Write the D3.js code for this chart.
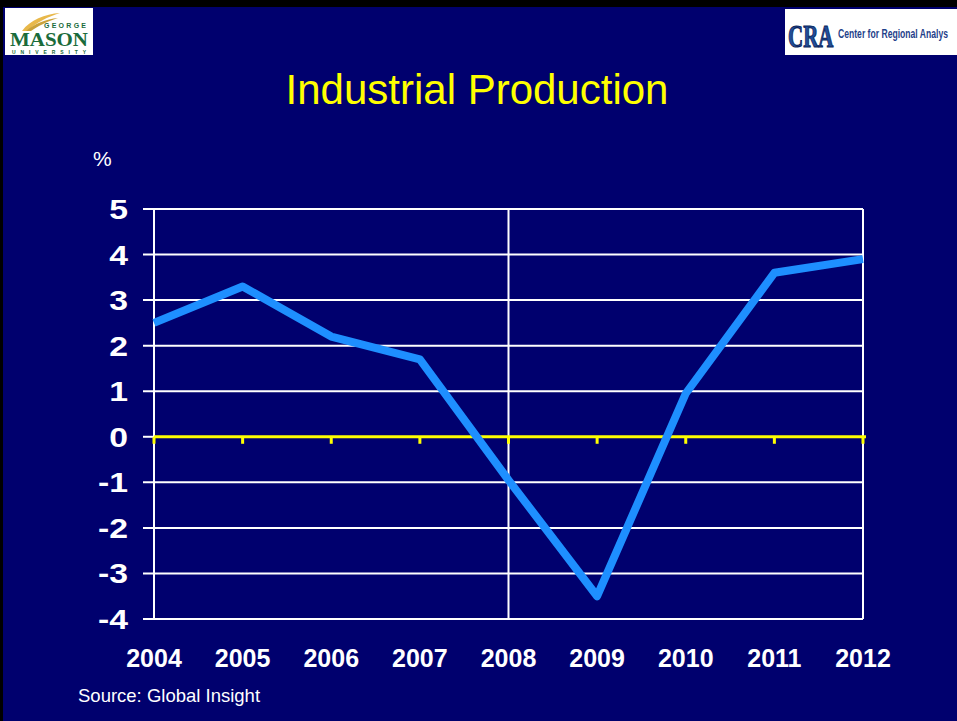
<!DOCTYPE html>
<html><head><meta charset="utf-8">
<script src="https://cdn.jsdelivr.net/npm/d3@7"></script>
<style>html,body{margin:0;padding:0;background:#000;overflow:hidden}</style>
</head><body>
<script>
const years = [2004, 2005, 2006, 2007, 2008, 2009, 2010, 2011, 2012];
const values = [2.5, 3.3, 2.2, 1.7, -0.95, -3.5, 0.95, 3.6, 3.9];
const yTicks = [5, 4, 3, 2, 1, 0, -1, -2, -3, -4];
const yTickLabels = ["5","4","3","2","1","0","-1","-2","-3","-4"];
const xTickLabels = ["2004","2005","2006","2007","2008","2009","2010","2011","2012"];
const title = "Industrial Production";
const unitLabel = "%";
const sourceText = "Source: Global Insight";

const W = 957, H = 721;
const svg = d3.select("body").append("svg").attr("width", W).attr("height", H);
const font = "Liberation Sans, Arial, sans-serif";

svg.append("rect").attr("width", W).attr("height", H).attr("fill", "#000");
svg.append("rect").attr("x", 3).attr("y", 7).attr("width", W - 3).attr("height", H - 7).attr("fill", "#00006e");

// Logos (left)
const gl = svg.append("g");
gl.append("rect").attr("x", 5).attr("y", 8).attr("width", 88).attr("height", 47).attr("fill", "#fff");
gl.append("path").attr("d", "M22,31 C30,20 45,14 60,13 C48,17 36,22 28,31 Z").attr("fill", "#e8b84a");
gl.append("path").attr("d", "M26,31 C34,24 46,19 58,18 C46,22 38,26 31,31 Z").attr("fill", "#c9a13a");
gl.append("text").attr("x", 44).attr("y", 28).attr("font-family", font).attr("font-weight", "bold")
  .attr("font-size", 7).attr("fill", "#1a6b3a").attr("textLength", 42).text("GEORGE");
gl.append("text").attr("x", 10).attr("y", 46).attr("font-family", "Liberation Serif, serif").attr("font-weight", "bold")
  .attr("font-size", 18).attr("fill", "#1a6b3a").attr("textLength", 78).attr("lengthAdjust", "spacingAndGlyphs").text("MASON");
gl.append("text").attr("x", 12).attr("y", 53.5).attr("font-family", font).attr("font-weight", "bold")
  .attr("font-size", 5).attr("fill", "#1a6b3a").attr("textLength", 74).text("UNIVERSITY");

// Logo (right)
const gr = svg.append("g");
gr.append("rect").attr("x", 785).attr("y", 9).attr("width", 172).attr("height", 46).attr("fill", "#fff");
gr.append("text").attr("transform", "translate(788,47) scale(1,1.5)").attr("font-family", "Liberation Serif, serif")
  .attr("font-weight", "bold").attr("font-size", 21).attr("fill", "#1f4f9a").attr("stroke", "#0a1f5a")
  .attr("stroke-width", 0.7).text("CRA");
gr.append("text").attr("transform", "translate(838,38) scale(1,1.45)").attr("font-family", font)
  .attr("font-weight", "bold").attr("font-size", 8.6).attr("fill", "#1f3f8a").text("Center for Regional Analys");

// Title
svg.append("text").attr("x", 477).attr("y", 104).attr("text-anchor", "middle")
  .attr("font-family", font).attr("font-size", 42).attr("fill", "#ffff00").text(title);

svg.append("text").attr("x", 93).attr("y", 166).attr("font-family", font).attr("font-size", 21)
  .attr("fill", "#fff").text(unitLabel);

const x = d3.scaleLinear().domain([2004, 2012]).range([154, 863]);
const y = d3.scaleLinear().domain([-4, 5]).range([619, 209]);

// Horizontal gridlines
svg.append("g").selectAll("line").data(yTicks.filter(d => d !== 0)).join("line")
  .attr("x1", 143).attr("x2", x(2012)).attr("y1", d => y(d)).attr("y2", d => y(d))
  .attr("stroke", "#fff").attr("stroke-width", 2);
svg.append("line").attr("x1", 143).attr("x2", x(2004)).attr("y1", y(0)).attr("y2", y(0))
  .attr("stroke", "#fff").attr("stroke-width", 2);

// vertical lines
[2004, 2008, 2012].forEach(v => {
  svg.append("line").attr("x1", x(v)).attr("x2", x(v)).attr("y1", y(5)).attr("y2", y(-4))
    .attr("stroke", "#fff").attr("stroke-width", 2);
});

// Zero line yellow with ticks
svg.append("line").attr("x1", x(2004)).attr("x2", x(2012) + 3).attr("y1", y(0)).attr("y2", y(0))
  .attr("stroke", "#ffff00").attr("stroke-width", 3);
svg.append("g").selectAll("line").data(years).join("line")
  .attr("x1", d => x(d)).attr("x2", d => x(d)).attr("y1", y(0)).attr("y2", y(0) + 7)
  .attr("stroke", "#ffff00").attr("stroke-width", 3);

// Y labels
svg.append("g").selectAll("text").data(yTicks).join("text")
  .attr("transform", d => `translate(128,${y(d) + 10}) scale(1.25,1)`)
  .attr("text-anchor", "end").attr("font-family", font).attr("font-weight", "bold")
  .attr("font-size", 27).attr("fill", "#fff").text((d, i) => yTickLabels[i]);

// X labels
svg.append("g").selectAll("text").data(years).join("text")
  .attr("x", d => x(d)).attr("y", 667).attr("text-anchor", "middle")
  .attr("font-family", font).attr("font-weight", "bold").attr("font-size", 25)
  .attr("fill", "#fff").text((d, i) => xTickLabels[i]);

// Data line
const line = d3.line().x((d, i) => x(years[i])).y(d => y(d));
svg.append("path").datum(values).attr("d", line).attr("fill", "none")
  .attr("stroke", "#1e8fff").attr("stroke-width", 8).attr("stroke-linejoin", "round");

svg.append("text").attr("x", 78).attr("y", 702).attr("font-family", font).attr("font-size", 18.5)
  .attr("fill", "#fff").text(sourceText);
</script>
</body></html>
